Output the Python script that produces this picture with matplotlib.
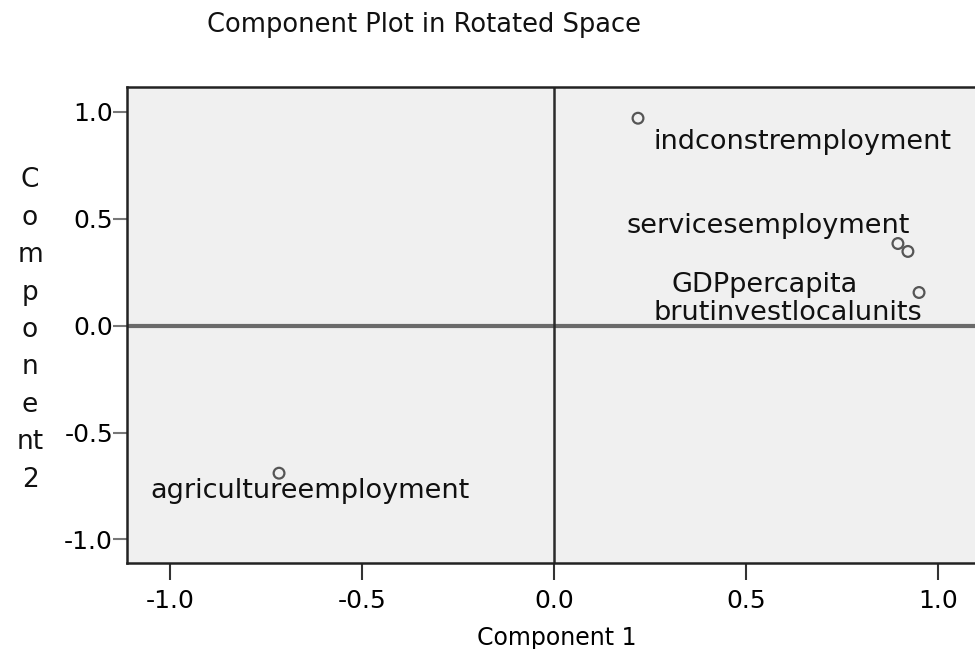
import matplotlib.pyplot as plt

# Rotated component loadings
variables = ['indconstremployment', 'servicesemployment', 'GDPpercapita',
             'brutinvestlocalunits', 'agricultureemployment']
comp1 = [0.219, 0.896, 0.922, 0.951, -0.716]
comp2 = [0.970, 0.384, 0.347, 0.155, -0.690]

# label placement (pixel offsets from each point, alignment)
label_offsets = [(15, -24, 'left'), (12, 18, 'right'), (-50, -34, 'right'),
                 (3, -21, 'right'), (-129, -18, 'left')]

plt.rcParams['font.family'] = ['DejaVu Sans']

fig = plt.figure(figsize=(9.75, 6.49), dpi=100)
ax = fig.add_axes([127 / 975, 1 - 563 / 649, 860 / 975, 476 / 649])
ax.set_facecolor('#f0f0f0')

ax.axhline(0, color='#6a6a6a', lw=3, zorder=1)
ax.axvline(0, color='#2a2a2a', lw=1.8, zorder=1)

ax.scatter(comp1, comp2, s=60, facecolors='none', edgecolors='#555555',
           linewidths=1.6, zorder=3)

for name, x, y, (dx, dy, ha) in zip(variables, comp1, comp2, label_offsets):
    ax.annotate(name, (x, y), xytext=(dx, dy), textcoords='offset pixels',
                ha=ha, va='center', fontsize=19.5, color='#111111')

ax.set_xlim(-1.112, 1.128)
ax.set_ylim(-1.11, 1.116)
ax.set_xticks([-1.0, -0.5, 0.0, 0.5, 1.0])
ax.set_yticks([-1.0, -0.5, 0.0, 0.5, 1.0])
ax.set_xticklabels(['-1.0', '-0.5', '0.0', '0.5', '1.0'])
ax.set_yticklabels(['-1.0', '-0.5', '0.0', '0.5', '1.0'])
ax.tick_params(axis='x', length=12, width=1.5, color='#333333',
               labelsize=18, pad=7)
ax.tick_params(axis='y', length=10, width=1.5, color='#777777',
               labelsize=18, pad=0)
for side in ax.spines.values():
    side.set_color('#222222')
    side.set_linewidth(1.8)

ax.set_xlabel('Component 1', fontsize=17, labelpad=9)

# stacked vertical axis title
fig.text(30 / 975, 1 - 330 / 649, 'C\no\nm\np\no\nn\ne\nnt\n2',
         ha='center', va='center', fontsize=19, linespacing=1.57,
         color='#111111')

fig.text(207 / 975, 1 - 25 / 649, 'Component Plot in Rotated Space',
         ha='left', va='center', fontsize=18.5, color='#111111')

fig.savefig('out.png', dpi=100, facecolor='white')
